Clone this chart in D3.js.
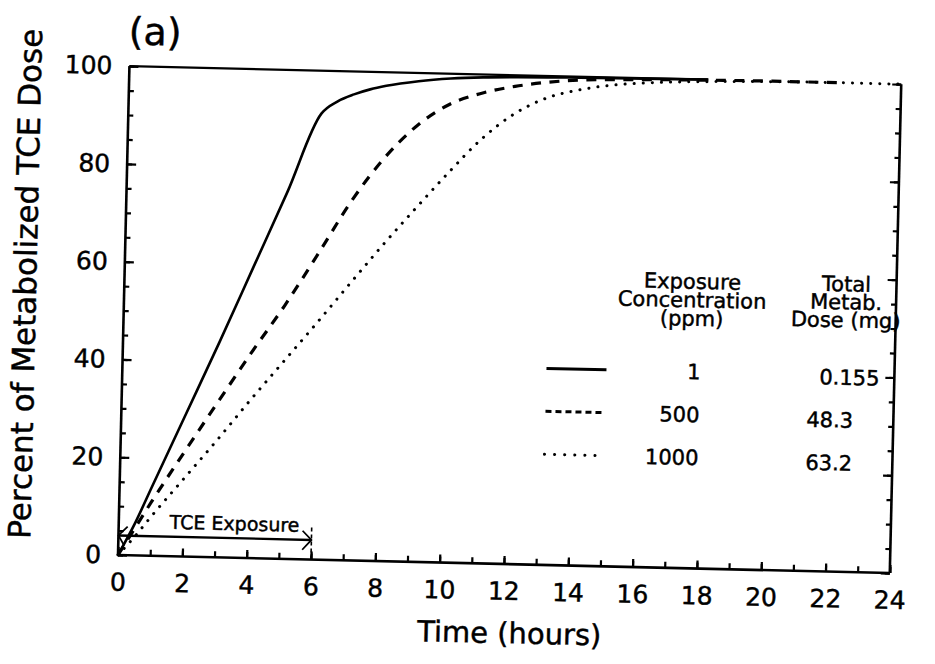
<!DOCTYPE html>
<html>
<head>
<meta charset="utf-8">
<script src="https://cdn.jsdelivr.net/npm/d3@7"></script>
<style>
  html, body { margin: 0; padding: 0; background: #fff; }
  svg { display: block; }
  text { font-family: "DejaVu Sans", sans-serif; fill: #000; stroke: #000; stroke-width: 0.45px; }
</style>
</head>
<body>
<svg id="chart" width="935" height="664"></svg>
<script>
// ---- data ----
const xTicks = [0, 2, 4, 6, 8, 10, 12, 14, 16, 18, 20, 22, 24];
const yTicks = [0, 20, 40, 60, 80, 100];

const solidT  = [0, 0.5, 1, 2, 3, 4, 5, 6, 6.5, 7, 7.5, 8, 9, 10, 11, 12, 14, 16, 18];
const solidY  = [0, 6.5, 14, 29, 44, 59.5, 75, 91.2, 93.8, 95.3, 96.4, 97.2, 98.3, 99, 99.4, 99.6, 99.8, 99.9, 100];

const dashedT = [0, 0.5, 1, 2, 3, 4, 5, 6, 7, 8, 9, 10, 11, 12, 13, 14, 16, 18, 20, 22];
const dashedY = [0, 5.5, 11, 21.5, 31.8, 42, 51.8, 62.5, 73.5, 82.5, 89.3, 93.8, 96.2, 97.7, 98.7, 99.3, 99.7, 99.9, 100, 100];

const dottedT = [0, 0.5, 1, 2, 3, 4, 5, 6, 7, 8, 9, 10, 11, 12, 13, 14, 15, 16, 18, 20, 22, 24];
const dottedY = [0, 3.8, 8, 16, 24, 32.3, 40.3, 48.3, 56.5, 64.6, 72.3, 79.8, 86.8, 92.1, 95.5, 97.3, 98.4, 99, 99.6, 99.9, 100, 100];

const legendConc = ["1", "500", "1000"];
const legendDose = ["0.155", "48.3", "63.2"];
const exposureStart = 0, exposureEnd = 6, exposureLevel = 4;

// ---- layout ----
const W = 772, H = 489;
const svg = d3.select("#chart");
const g = svg.append("g")
  .attr("transform", "rotate(1.34,118,555) translate(118,66)");

const x = d3.scaleLinear().domain([0, 24]).range([0, W]);
const y = d3.scaleLinear().domain([0, 100]).range([H, 0]);

// minor ticks
g.append("g").attr("transform", `translate(0,${H})`)
  .call(d3.axisBottom(x).tickValues(d3.range(0, 25, 1)).tickSizeInner(-6).tickSizeOuter(0).tickFormat(""));
g.append("g")
  .call(d3.axisLeft(y).tickValues(d3.range(0, 101, 5)).tickSizeInner(-5).tickSizeOuter(0).tickFormat(""));
g.append("g").attr("transform", `translate(${W},0)`)
  .call(d3.axisRight(y).tickValues(d3.range(0, 101, 5)).tickSizeInner(-5).tickSizeOuter(0).tickFormat(""));

// major ticks + labels
const xa = g.append("g").attr("transform", `translate(0,${H})`)
  .call(d3.axisBottom(x).tickValues(xTicks).tickSizeInner(-8).tickSizeOuter(0).tickPadding(18).tickFormat(d3.format("d")));
const ya = g.append("g")
  .call(d3.axisLeft(y).tickValues(yTicks).tickSizeInner(-9).tickSizeOuter(0).tickPadding(17).tickFormat(d3.format("d")));
g.append("g").attr("transform", `translate(${W},0)`)
  .call(d3.axisRight(y).tickValues(yTicks).tickSizeInner(-9).tickSizeOuter(0).tickFormat(""));

g.selectAll(".domain").remove();
g.selectAll(".tick line").attr("stroke", "#000").attr("stroke-width", 2.2);
xa.selectAll("text").style("font-size", "25px").attr("fill", "#000");
ya.selectAll("text").style("font-size", "25px").attr("fill", "#000");

// frame
const frame = g.append("g").attr("stroke", "#000").attr("stroke-width", 2.6).attr("fill", "none");
frame.append("line").attr("x1", x(0)).attr("y1", y(0)).attr("x2", x(0)).attr("y2", y(100));
frame.append("line").attr("x1", x(0)).attr("y1", y(0)).attr("x2", x(24)).attr("y2", y(0));
frame.append("line").attr("x1", x(24)).attr("y1", y(0)).attr("x2", x(24)).attr("y2", y(100));
frame.append("line").attr("x1", x(0)).attr("y1", y(100)).attr("x2", x(18)).attr("y2", y(100)).attr("stroke-width", 2.2);

// curves
const line = d3.line().x(d => x(d[0])).y(d => y(d[1])).curve(d3.curveMonotoneX);
const zip = (a, b) => a.map((v, i) => [v, b[i]]);

g.append("path").datum(zip(solidT, solidY)).attr("d", line)
  .attr("fill", "none").attr("stroke", "#000").attr("stroke-width", 2.6);
g.append("path").datum(zip(dashedT, dashedY)).attr("d", line)
  .attr("fill", "none").attr("stroke", "#000").attr("stroke-width", 3.2)
  .attr("stroke-dasharray", "10,8.5");
g.append("path").datum(zip(dottedT, dottedY)).attr("d", line)
  .attr("fill", "none").attr("stroke", "#000").attr("stroke-width", 3)
  .attr("stroke-linecap", "round").attr("stroke-dasharray", "0.1,9");

// TCE exposure annotation
const ay = y(exposureLevel);
const ann = g.append("g").attr("stroke", "#000").attr("fill", "none");
ann.append("line").attr("x1", x(exposureStart)).attr("y1", ay).attr("x2", x(exposureEnd)).attr("y2", ay)
  .attr("stroke-width", 2.4);
ann.append("path")
  .attr("d", `M${x(exposureEnd) - 9},${ay - 9} L${x(exposureEnd)},${ay} L${x(exposureEnd) - 9},${ay + 10}`)
  .attr("stroke-width", 1.8);
ann.append("path")
  .attr("d", `M${x(exposureStart) + 9},${ay - 9} L${x(exposureStart)},${ay} L${x(exposureStart) + 6},${ay + 10}`)
  .attr("stroke-width", 1.8);
ann.append("line").attr("x1", x(exposureEnd)).attr("y1", y(0)).attr("x2", x(exposureEnd)).attr("y2", y(7))
  .attr("stroke-width", 1.6).attr("stroke-dasharray", "4,3");
g.append("text").attr("x", x(3.6)).attr("y", y(5.6)).attr("text-anchor", "middle")
  .style("font-size", "19px").text("TCE Exposure");

// panel label and axis titles
g.append("text").attr("x", 25).attr("y", -35).attr("dy", "0.35em").attr("text-anchor", "middle")
  .style("font-size", "38px").text("(a)");
g.append("text").attr("transform", "translate(-99,220) rotate(-90)").attr("text-anchor", "middle")
  .attr("dy", "0.35em").style("font-size", "31px").text("Percent of Metabolized TCE Dose");
g.append("text").attr("x", 393).attr("y", 558).attr("dy", "0.35em").attr("text-anchor", "middle")
  .style("font-size", "29px").text("Time (hours)");

// legend
const lg = g.append("g");
const hdrL = ["Exposure", "Concentration", "(ppm)"];
const hdrR = ["Total", "Metab.", "Dose (mg)"];
hdrL.forEach((t, i) => lg.append("text").attr("x", 568).attr("y", 202 + i * 18.5).attr("dy", "0.35em")
  .attr("text-anchor", "middle").style("font-size", "21px").text(t));
hdrR.forEach((t, i) => lg.append("text").attr("x", 722).attr("y", 201 + i * 18).attr("dy", "0.35em")
  .attr("text-anchor", "middle").style("font-size", "21px").text(t));

const rowY = [292.5, 335.3, 378.3];
const styles = [
  { w: 3, dash: null, cap: "butt" },
  { w: 3, dash: "6,4", cap: "butt" },
  { w: 3, dash: "0.1,10", cap: "round" }
];
legendConc.forEach((c, i) => {
  const s = styles[i];
  const l = lg.append("line").attr("x1", 424).attr("x2", 484).attr("y1", rowY[i]).attr("y2", rowY[i])
    .attr("stroke", "#000").attr("stroke-width", s.w).attr("stroke-linecap", s.cap);
  if (s.dash) l.attr("stroke-dasharray", s.dash);
  lg.append("text").attr("x", 578).attr("y", rowY[i]).attr("dy", "0.35em").attr("text-anchor", "end")
    .style("font-size", "21px").text(c);
  lg.append("text").attr("x", i === 0 ? 697 : 685).attr("y", rowY[i] + 2).attr("dy", "0.35em")
    .style("font-size", "21px").text(legendDose[i]);
});
</script>
</body>
</html>
